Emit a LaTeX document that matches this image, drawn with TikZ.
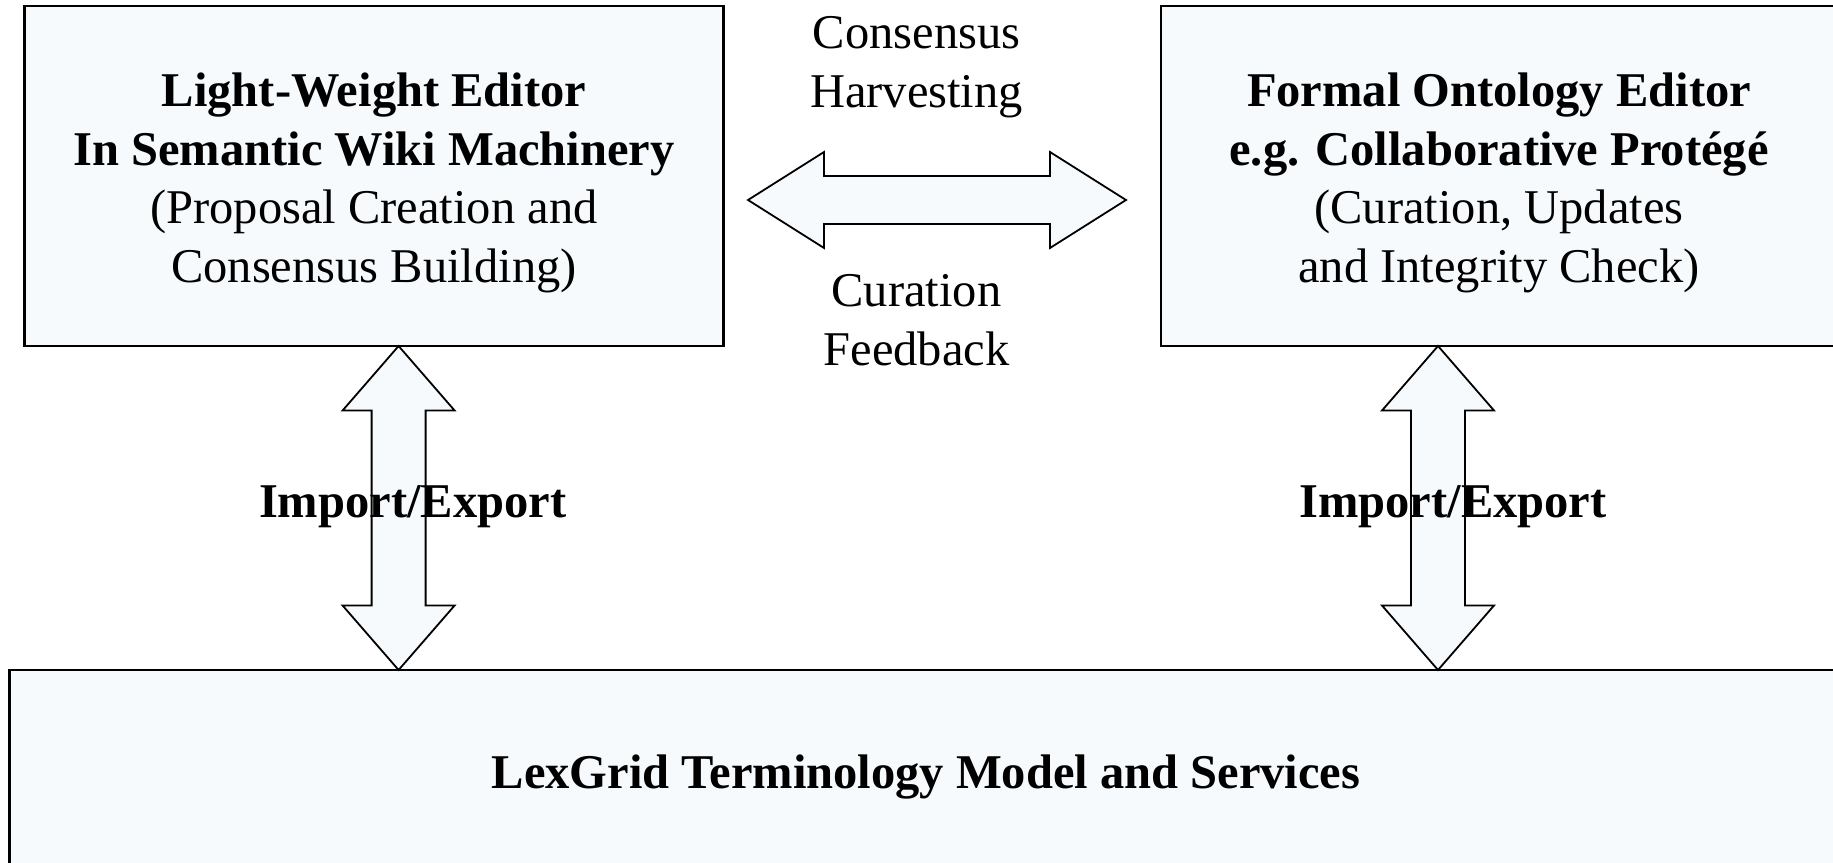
\documentclass[tikz,border=0pt]{standalone}
\usepackage{fontspec}
\setmainfont{Liberation Serif}
\usetikzlibrary{calc}
\definecolor{boxfill}{RGB}{246,250,252}
\newcommand\vfat[2]{%
  \draw[fat] (#1) -- ($(#1)+(56,64.5)$) -- ($(#1)+(27,64.5)$) -- ($(#2)+(27,-64.5)$)
    -- ($(#2)+(56,-64.5)$) -- (#2) -- ($(#2)+(-56,-64.5)$) -- ($(#2)+(-27,-64.5)$)
    -- ($(#1)+(-27,64.5)$) -- ($(#1)+(-56,64.5)$) -- cycle;}
\newcommand\hfat[2]{%
  \draw[fat] (#1) -- ($(#1)+(76,-48)$) -- ($(#1)+(76,-24)$) -- ($(#2)+(-76,-24)$)
    -- ($(#2)+(-76,-48)$) -- (#2) -- ($(#2)+(-76,48)$) -- ($(#2)+(-76,24)$)
    -- ($(#1)+(76,24)$) -- ($(#1)+(76,48)$) -- cycle;}
\begin{document}
\begin{tikzpicture}[x=1pt,y=-1pt,
  box/.style={draw=black,line width=2.2pt,fill=boxfill,inner sep=0pt},
  fat/.style={draw=black,line width=1.8pt,fill=boxfill,line join=miter},
  lbl/.style={inner sep=0pt,align=center,font=\fontsize{48.5}{58.5}\selectfont}]
\useasboundingbox (0,0) rectangle (1833,862);
\clip (0,0) rectangle (1833,862);
\fill[white] (0,0) rectangle (1833,862);
% boxes
\node[box,minimum width=699pt,minimum height=340pt] (lw) at (374,176) {};
\node[box,minimum width=720pt,minimum height=340pt] (fo) at (1521,176) {};
\node[box,minimum width=1833pt,minimum height=200pt] (lg) at (926,770) {};
\node[lbl] (lwt) at ($(lw.center)+(0,7)$)
  {\textbf{Light-Weight Editor}\\\textbf{In Semantic Wiki Machinery}\\(Proposal Creation and\\Consensus Building)};
\node[lbl] (fot) at ($(fo.center)+(-22,7)$)
  {\textbf{Formal Ontology Editor}\\\textbf{e.g. Collaborative Protégé}\\(Curation, Updates\\and Integrity Check)};
\node[lbl] (lgt) at ($(lg.center)+(0,7)$)
  {\textbf{LexGrid Terminology Model and Services}};
% arrow end points
\coordinate (h1) at (748,200);
\coordinate (h2) at (1126,200);
\coordinate (l1) at (398.6,346);
\coordinate (l2) at (398.6,670);
\coordinate (r1) at (1438,346);
\coordinate (r2) at (1438,670);
\hfat{h1}{h2}
\vfat{l1}{l2}
\vfat{r1}{r2}
% labels
\node[lbl] (ch) at (916.5,67) {Consensus\\Harvesting};
\node[lbl] (cf) at (916.5,320) {Curation\\Feedback};
\node[lbl] (ie1) at (412.7,507) {\textbf{Import/Export}};
\node[lbl] (ie2) at (1453,507) {\textbf{Import/Export}};
\end{tikzpicture}
\end{document}
